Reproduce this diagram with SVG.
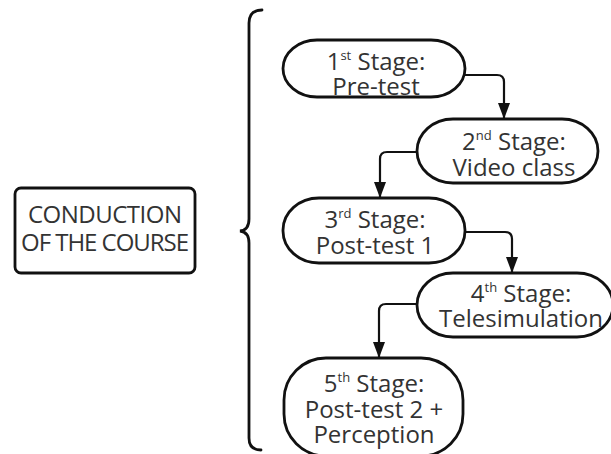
<svg xmlns="http://www.w3.org/2000/svg" width="611" height="454" viewBox="0 0 611 454">
<style>
.node{fill:#fff;stroke:#111;stroke-width:2.8}
.t{font-family:"Open Sans","DejaVu Sans",sans-serif;font-size:24px;fill:#333;text-anchor:middle}
.sup{font-size:13px}
.conn{fill:none;stroke:#111;stroke-width:2.2}
.brace{fill:none;stroke:#111;stroke-width:2.8;stroke-linecap:round}
</style>
<defs>
<marker id="arr" viewBox="0 0 16 12" refX="16" refY="6" markerWidth="16" markerHeight="12" markerUnits="userSpaceOnUse" orient="auto">
<path d="M0,0 L16,6 L0,12 Z" fill="#111"/>
</marker>
</defs>
<rect width="611" height="454" fill="#fff"/>
<g id="course">
<rect class="node" x="15" y="188" width="180" height="85" rx="6"/>
<text class="t" x="105" y="223" textLength="154" lengthAdjust="spacing">CONDUCTION</text>
<text class="t" x="105" y="251" textLength="168" lengthAdjust="spacing">OF THE COURSE</text>
</g>
<g id="brace">
<path class="brace" d="M262,10 Q249,10 249,23 L249,219 Q249,230 240,231 Q249,232 249,243 L249,438 Q249,450 261,450"/>
</g>
<g id="connectors">
<path class="conn" marker-end="url(#arr)" d="M465,75 L497,75 Q504,75 504,82 L504,119"/>
<path class="conn" marker-end="url(#arr)" d="M417,152 L387,152 Q380,152 380,159 L380,198"/>
<path class="conn" marker-end="url(#arr)" d="M465,232 L505,232 Q512,232 512,239 L512,273"/>
<path class="conn" marker-end="url(#arr)" d="M417,304 L386,304 Q379,304 379,311 L379,358"/>
</g>
<g id="stage1">
<rect class="node" x="283" y="40" width="182" height="57" rx="34" ry="28.5"/>
<text class="t" x="376" y="70">1<tspan class="sup" dy="-10">st</tspan><tspan dy="10"> Stage:</tspan></text>
<text class="t" x="376" y="95">Pre-test</text>
</g>
<g id="stage2">
<rect class="node" x="417" y="119" width="181" height="64" rx="36" ry="32"/>
<text class="t" x="514" y="150">2<tspan class="sup" dy="-10">nd</tspan><tspan dy="10"> Stage:</tspan></text>
<text class="t" x="514" y="176">Video class</text>
</g>
<g id="stage3">
<rect class="node" x="283" y="198" width="182" height="65" rx="36" ry="32"/>
<text class="t" x="375" y="228">3<tspan class="sup" dy="-10">rd</tspan><tspan dy="10"> Stage:</tspan></text>
<text class="t" x="375" y="254">Post-test 1</text>
</g>
<g id="stage4">
<rect class="node" x="417" y="273" width="196" height="64" rx="36" ry="32"/>
<text class="t" x="521" y="302">4<tspan class="sup" dy="-10">th</tspan><tspan dy="10"> Stage:</tspan></text>
<text class="t" x="521" y="327">Telesimulation</text>
</g>
<g id="stage5">
<rect class="node" x="284" y="358" width="179" height="98" rx="42" ry="42"/>
<text class="t" x="374" y="392">5<tspan class="sup" dy="-10">th</tspan><tspan dy="10"> Stage:</tspan></text>
<text class="t" x="374" y="418">Post-test 2 +</text>
<text class="t" x="374" y="443">Perception</text>
</g>
</svg>
